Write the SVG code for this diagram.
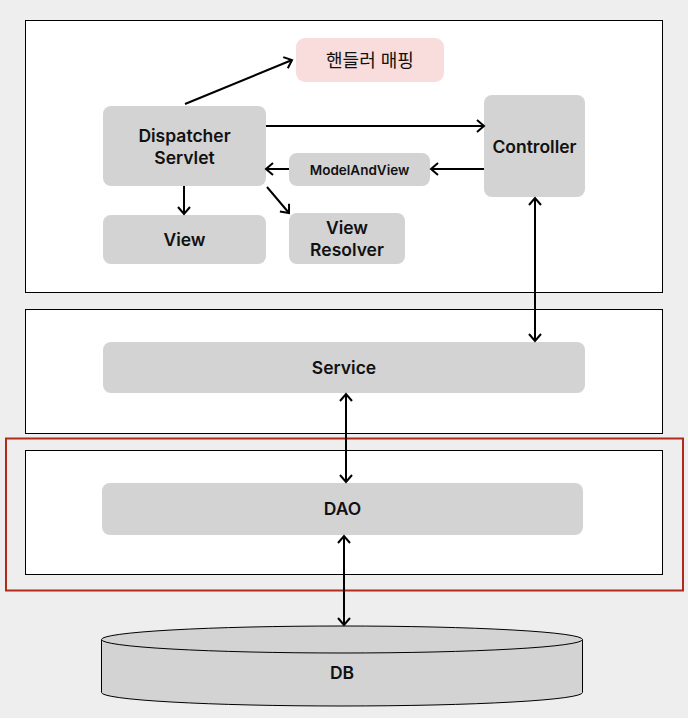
<svg xmlns="http://www.w3.org/2000/svg" width="688" height="718" viewBox="0 0 688 718">
<defs>
<style>
.panel{fill:#ffffff;stroke:#000;stroke-width:1}
.node{fill:#d3d3d3}
.t{font-family:Inter,"Noto Sans CJK KR","Liberation Sans",sans-serif;fill:#111;text-anchor:middle}
.b{font-weight:600;font-size:17.5px}
.c{stroke:#000;stroke-width:2;fill:none}
</style>
<marker id="ah" markerUnits="userSpaceOnUse" markerWidth="14" markerHeight="14" refX="9" refY="7" orient="auto-start-reverse">
<path d="M2,1 L9,7 L2,13" fill="none" stroke="#000" stroke-width="2"/>
</marker>
</defs>
<rect x="0" y="0" width="688" height="718" fill="#eeeeee"/>
<g id="panel-web"><rect class="panel" x="25.5" y="20.5" width="637" height="272"/></g>
<g id="panel-service"><rect class="panel" x="25.5" y="309.5" width="637" height="124"/></g>
<g id="highlight"><rect x="6" y="438.5" width="677" height="152" fill="none" stroke="#b22a1a" stroke-width="2"/></g>
<g id="panel-dao"><rect class="panel" x="25.5" y="450.5" width="637" height="124"/></g>

<g id="handler-mapping"><rect x="296" y="38" width="148" height="44" rx="9" fill="#f9dcdc"/><text class="t" x="370" y="66.5" font-size="18">핸들러 매핑</text></g>
<g id="dispatcher-servlet"><rect class="node" x="103" y="106" width="163" height="80" rx="8"/><text class="t b" x="184.5" y="142">Dispatcher</text><text class="t b" x="184.5" y="164">Servlet</text></g>
<g id="controller"><rect class="node" x="484" y="95" width="101" height="102" rx="8"/><text class="t b" x="534.5" y="153">Controller</text></g>
<g id="model-and-view"><rect class="node" x="289" y="153" width="141" height="33" rx="8"/><text class="t" x="359.5" y="175" font-size="13.5" font-weight="600">ModelAndView</text></g>
<g id="view"><rect class="node" x="103" y="215" width="163" height="49" rx="8"/><text class="t b" x="184.5" y="246">View</text></g>
<g id="view-resolver"><rect class="node" x="289" y="213" width="116" height="51" rx="8"/><text class="t b" x="347" y="234">View</text><text class="t b" x="347" y="256">Resolver</text></g>
<g id="service"><rect class="node" x="103" y="342" width="482" height="51" rx="8"/><text class="t b" x="344" y="374">Service</text></g>
<g id="dao"><rect class="node" x="102" y="483" width="481" height="52" rx="8"/><text class="t b" x="342.5" y="515">DAO</text></g>
<g id="db">
<path d="M101.5,639.5 L101.5,692.5 A240.5,13.5 0 0 0 582.5,692.5 L582.5,639.5" fill="#d3d3d3" stroke="#000" stroke-width="1"/>
<ellipse cx="342" cy="639.5" rx="240.5" ry="13.5" fill="#d3d3d3" stroke="#000" stroke-width="1"/>
<text class="t b" x="342" y="679">DB</text></g>

<g id="connectors">
<line class="c" x1="185" y1="104" x2="292" y2="60" marker-end="url(#ah)"/>
<line class="c" x1="266" y1="126" x2="484" y2="126" marker-end="url(#ah)"/>
<line class="c" x1="484" y1="169" x2="431" y2="169" marker-end="url(#ah)"/>
<line class="c" x1="289" y1="169" x2="266" y2="169" marker-end="url(#ah)"/>
<line class="c" x1="184" y1="186" x2="184" y2="214" marker-end="url(#ah)"/>
<line class="c" x1="267" y1="187" x2="289" y2="213" marker-end="url(#ah)"/>
<line class="c" x1="535" y1="198" x2="535" y2="341" marker-start="url(#ah)" marker-end="url(#ah)"/>
<line class="c" x1="346" y1="394" x2="346" y2="482" marker-start="url(#ah)" marker-end="url(#ah)"/>
<line class="c" x1="344" y1="536" x2="344" y2="625" marker-start="url(#ah)" marker-end="url(#ah)"/>
</g>
</svg>
